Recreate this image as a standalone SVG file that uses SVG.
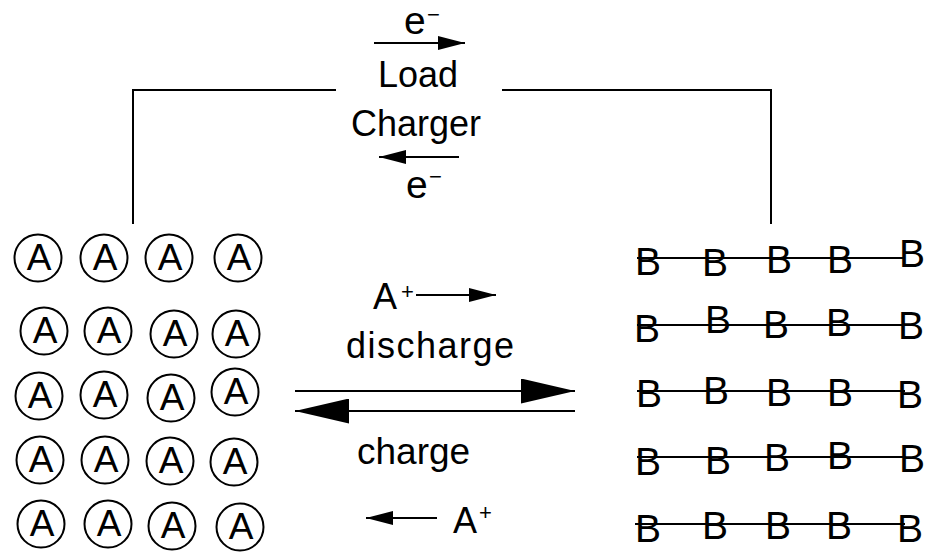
<svg xmlns="http://www.w3.org/2000/svg" width="927" height="552" viewBox="0 0 927 552">
  <defs>
    <style>
      text { font-family: "Liberation Sans", Arial, sans-serif; font-size: 36px; fill: #000; }
      .sup { font-size: 22px; }
      .ion circle { fill: none; stroke: #000; stroke-width: 2; }
      .ion text { text-anchor: middle; font-size: 37px; }
      .wire, .rail, .arrow { fill: none; stroke: #000; stroke-width: 2; }
      .b { font-size: 39px; }
      .e { font-size: 39px; }
    </style>
    <marker id="head-s" viewBox="0 0 27 14" refX="27" refY="7" markerWidth="27" markerHeight="14" markerUnits="userSpaceOnUse" orient="auto">
      <path d="M0,0 L27,7 L0,14 z" fill="#000"/>
    </marker>
    <marker id="head-l" viewBox="0 0 54 25" refX="54" refY="12.5" markerWidth="54" markerHeight="25" markerUnits="userSpaceOnUse" orient="auto">
      <path d="M0,0 L54,12.5 L0,25 z" fill="#000"/>
    </marker>
  </defs>
  <rect width="927" height="552" fill="#fff"/>

  <g id="connectors">
    <path id="wire-left" class="wire" d="M133,224 V90 H336"/>
    <path id="wire-right" class="wire" d="M502,90 H771 V224"/>
    <line id="e-discharge" class="arrow" x1="374" y1="43" x2="465" y2="43" marker-end="url(#head-s)"/>
    <line id="e-charge" class="arrow" x1="459" y1="157" x2="379" y2="157" marker-end="url(#head-s)"/>
    <line id="ion-discharge" class="arrow" x1="416" y1="295" x2="496" y2="295" marker-end="url(#head-s)"/>
    <line id="ion-charge" class="arrow" x1="437" y1="518" x2="366" y2="518" marker-end="url(#head-s)"/>
    <line id="discharge-arrow" class="arrow" x1="295" y1="391" x2="575" y2="391" marker-end="url(#head-l)"/>
    <line id="charge-arrow" class="arrow" x1="575" y1="411" x2="295" y2="411" marker-end="url(#head-l)"/>
  </g>

  <g id="labels">
    <text id="e-top" class="e" x="404" y="34">e<tspan class="sup" x="427" y="22">−</tspan></text>
    <text id="load" x="378" y="87">Load</text>
    <text id="charger" x="351" y="136">Charger</text>
    <text id="e-bottom" class="e" x="406" y="198">e<tspan class="sup" x="429" y="184">−</tspan></text>
    <text id="ion-top" x="373" y="309">A<tspan class="sup" x="401" y="299">+</tspan></text>
    <text id="discharge" x="346" y="358" textLength="168" lengthAdjust="spacing">discharge</text>
    <text id="charge" x="357" y="464" style="font-size:37px">charge</text>
    <text id="ion-bottom" x="453" y="533">A<tspan class="sup" x="479" y="520">+</tspan></text>
  </g>

  <g id="anode">
    <g id="a-1-1" class="ion" transform="translate(38,258)"><circle r="23.5"/><text x="1" y="12">A</text></g>
    <g id="a-1-2" class="ion" transform="translate(104,258)"><circle r="23.5"/><text x="1" y="12">A</text></g>
    <g id="a-1-3" class="ion" transform="translate(169,258)"><circle r="23.5"/><text x="1" y="12">A</text></g>
    <g id="a-1-4" class="ion" transform="translate(238,258)"><circle r="23.5"/><text x="1" y="12">A</text></g>
    <g id="a-2-1" class="ion" transform="translate(44,331)"><circle r="23.5"/><text x="1" y="12">A</text></g>
    <g id="a-2-2" class="ion" transform="translate(108,331)"><circle r="23.5"/><text x="1" y="12">A</text></g>
    <g id="a-2-3" class="ion" transform="translate(174,334)"><circle r="23.5"/><text x="1" y="12">A</text></g>
    <g id="a-2-4" class="ion" transform="translate(236,334)"><circle r="23.5"/><text x="1" y="12">A</text></g>
    <g id="a-3-1" class="ion" transform="translate(39,396)"><circle r="23.5"/><text x="1" y="12">A</text></g>
    <g id="a-3-2" class="ion" transform="translate(104,395)"><circle r="23.5"/><text x="1" y="12">A</text></g>
    <g id="a-3-3" class="ion" transform="translate(171,398)"><circle r="23.5"/><text x="1" y="12">A</text></g>
    <g id="a-3-4" class="ion" transform="translate(235,392)"><circle r="23.5"/><text x="1" y="12">A</text></g>
    <g id="a-4-1" class="ion" transform="translate(40,460)"><circle r="23.5"/><text x="1" y="12">A</text></g>
    <g id="a-4-2" class="ion" transform="translate(105,460)"><circle r="23.5"/><text x="1" y="12">A</text></g>
    <g id="a-4-3" class="ion" transform="translate(170,461)"><circle r="23.5"/><text x="1" y="12">A</text></g>
    <g id="a-4-4" class="ion" transform="translate(234,462)"><circle r="23.5"/><text x="1" y="12">A</text></g>
    <g id="a-5-1" class="ion" transform="translate(41,524)"><circle r="23.5"/><text x="1" y="12">A</text></g>
    <g id="a-5-2" class="ion" transform="translate(108,524)"><circle r="23.5"/><text x="1" y="12">A</text></g>
    <g id="a-5-3" class="ion" transform="translate(172,526)"><circle r="23.5"/><text x="1" y="12">A</text></g>
    <g id="a-5-4" class="ion" transform="translate(240,527)"><circle r="23.5"/><text x="1" y="12">A</text></g>
  </g>

  <g id="cathode">
    <g id="b-row-1">
      <line class="rail" x1="637" y1="258" x2="905" y2="258"/>
      <text class="b" x="635" y="275">B</text><text class="b" x="702" y="276">B</text><text class="b" x="766" y="273">B</text><text class="b" x="827" y="273">B</text><text class="b" x="899" y="267">B</text>
    </g>
    <g id="b-row-2">
      <line class="rail" x1="637" y1="325" x2="905" y2="325"/>
      <text class="b" x="634" y="342">B</text><text class="b" x="705" y="333">B</text><text class="b" x="763" y="338">B</text><text class="b" x="826" y="336">B</text><text class="b" x="898" y="339">B</text>
    </g>
    <g id="b-row-3">
      <line class="rail" x1="637" y1="391" x2="905" y2="391"/>
      <text class="b" x="636" y="407">B</text><text class="b" x="703" y="404">B</text><text class="b" x="766" y="406">B</text><text class="b" x="827" y="406">B</text><text class="b" x="897" y="408">B</text>
    </g>
    <g id="b-row-4">
      <line class="rail" x1="637" y1="457" x2="905" y2="457"/>
      <text class="b" x="635" y="475">B</text><text class="b" x="705" y="474">B</text><text class="b" x="764" y="471">B</text><text class="b" x="827" y="469">B</text><text class="b" x="899" y="472">B</text>
    </g>
    <g id="b-row-5">
      <line class="rail" x1="635" y1="524" x2="905" y2="524"/>
      <text class="b" x="635" y="542">B</text><text class="b" x="702" y="539">B</text><text class="b" x="765" y="539">B</text><text class="b" x="826" y="539">B</text><text class="b" x="897" y="542">B</text>
    </g>
  </g>
</svg>
